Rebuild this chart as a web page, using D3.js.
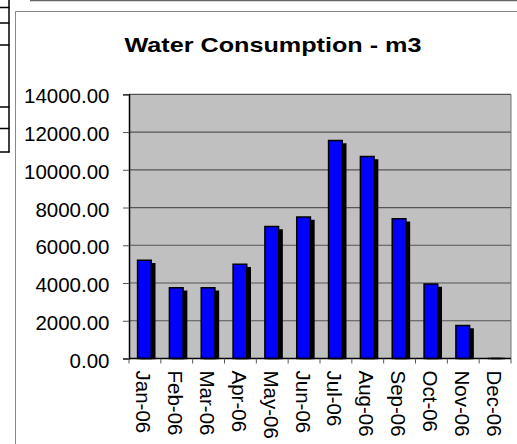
<!DOCTYPE html>
<html>
<head>
<meta charset="utf-8">
<script src="https://cdn.jsdelivr.net/npm/d3@7"></script>
<style>
  html, body { margin: 0; padding: 0; background: #fff; }
  svg { display: block; }
  text { font-family: "Liberation Sans", Arial, Helvetica, sans-serif; fill: #000; }
</style>
</head>
<body>
<svg id="chart" width="517" height="444"></svg>
<script>
const months = ["Jan-06","Feb-06","Mar-06","Apr-06","May-06","Jun-06","Jul-06","Aug-06","Sep-06","Oct-06","Nov-06","Dec-06"];
const consumption = [5200, 3750, 3750, 5000, 7000, 7500, 11550, 10700, 7400, 3950, 1750, 0];
const yTicks = [0, 2000, 4000, 6000, 8000, 10000, 12000, 14000];
const titleText = "Water Consumption - m3";
const tableRuleYs = [7.5, 23, 45, 107, 128.5, 152];

const svg = d3.select("#chart");

// decorations from the surrounding sheet
svg.append("line").attr("x1", 30).attr("x2", 517).attr("y1", 0.5).attr("y2", 0.5)
  .attr("stroke", "#666").attr("stroke-width", 1.5);
svg.append("line").attr("x1", 9).attr("x2", 9).attr("y1", 0).attr("y2", 152.5)
  .attr("stroke", "#000").attr("stroke-width", 1.5);
svg.selectAll("line.tbl").data(tableRuleYs).enter().append("line")
  .attr("class", "tbl")
  .attr("x1", 0).attr("x2", 9.5).attr("y1", d => d).attr("y2", d => d)
  .attr("stroke", "#000").attr("stroke-width", 1.5);

// chart frame
svg.append("path").attr("d", "M15.5,444 V11.5 H517")
  .attr("fill", "none").attr("stroke", "#888").attr("stroke-width", 1);

// title
svg.append("text").attr("x", 124.5).attr("y", 51.5)
  .attr("font-size", 20.5).attr("font-weight", "bold")
  .attr("textLength", 297).attr("lengthAdjust", "spacingAndGlyphs")
  .text(titleText);

const left = 129, right = 511;
const x = d3.scaleBand().domain(months).range([left, right]).padding(0);
const y = d3.scaleLinear().domain([0, 14000]).range([358.5, 94.3]);

// plot background
svg.append("rect").attr("x", left).attr("y", y(14000))
  .attr("width", right - left).attr("height", y(0) - y(14000))
  .attr("fill", "#C0C0C0");

// gridlines
svg.selectAll("line.grid").data(yTicks.filter(d => d > 0)).enter().append("line")
  .attr("class", "grid")
  .attr("x1", left).attr("x2", right)
  .attr("y1", d => y(d)).attr("y2", d => y(d))
  .attr("stroke", "#555").attr("stroke-width", 1.2);

// right border
svg.append("line").attr("x1", right).attr("x2", right).attr("y1", y(14000)).attr("y2", y(0))
  .attr("stroke", "#777").attr("stroke-width", 1);

// bars
const bw = x.bandwidth() * 0.43;
const off = 3.5;
const g = svg.append("g");
g.selectAll("path.shadow").data(months).enter().append("path")
  .attr("class", "shadow")
  .attr("d", (m, i) => {
    const cx = x(m) + x.bandwidth() / 2 - 0.5;
    const x0 = cx - bw / 2 + off, yt = Math.min(y(consumption[i]) + off, y(0));
    return `M${x0},${y(0)} V${yt} H${x0 + bw} V${y(0)} Z`;
  })
  .attr("fill", "#000").attr("stroke", "#000").attr("stroke-width", 1.5);
g.selectAll("path.bar").data(months).enter().append("path")
  .attr("class", "bar")
  .attr("d", (m, i) => {
    const cx = x(m) + x.bandwidth() / 2 - 0.5;
    const x0 = cx - bw / 2, yt = y(consumption[i]);
    return `M${x0},${y(0)} V${yt} H${x0 + bw} V${y(0)} Z`;
  })
  .attr("fill", "#0000FF").attr("stroke", "#000").attr("stroke-width", 1.5);

// y axis
const yAxis = d3.axisLeft(y).tickValues(yTicks).tickSize(6).tickPadding(0)
  .tickFormat(d => d3.format(".2f")(d));
const ya = svg.append("g").attr("transform", `translate(${left},0)`).call(yAxis);
ya.select(".domain").attr("stroke", "#000").attr("stroke-width", 1.5);
ya.selectAll(".tick line").attr("stroke", "#555");
ya.selectAll(".tick text")
  .attr("x", -19.5).attr("dy", null).attr("y", 8.5)
  .attr("font-size", 20.5).attr("font-family", "Liberation Sans, Arial, sans-serif")
  .attr("text-anchor", "end");

// x axis
const boundaries = months.map(m => x(m)).concat([right]);
svg.append("line").attr("x1", left).attr("x2", right).attr("y1", y(0)).attr("y2", y(0))
  .attr("stroke", "#000").attr("stroke-width", 1.5);
svg.selectAll("line.xt").data(boundaries).enter().append("line")
  .attr("class", "xt")
  .attr("x1", d => d).attr("x2", d => d).attr("y1", y(0)).attr("y2", y(0) + 5)
  .attr("stroke", "#555");
svg.selectAll("text.xl").data(months).enter().append("text")
  .attr("class", "xl")
  .attr("transform", m => `translate(${x(m) + x.bandwidth() / 2 - 8.5},370.5) rotate(90)`)
  .attr("font-size", 20.5)
  .attr("text-anchor", "start")
  .text(m => m);
</script>
</body>
</html>
